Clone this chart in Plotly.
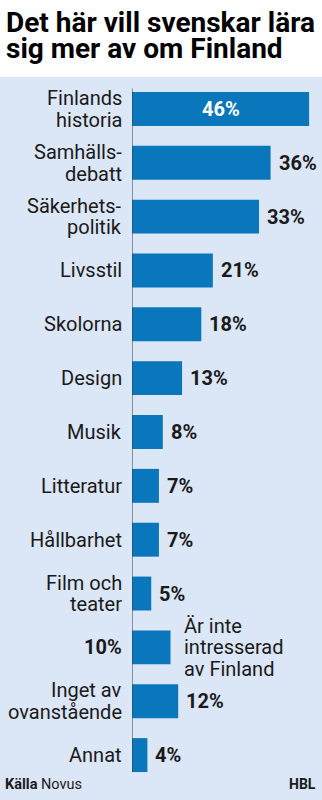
import plotly.graph_objects as go

# ---- data ----
categories = [
    "Finlands<br>historia",
    "Samhälls-<br>debatt",
    "Säkerhets-<br>politik",
    "Livsstil",
    "Skolorna",
    "Design",
    "Musik",
    "Litteratur",
    "Hållbarhet",
    "Film och<br>teater",
    "Är inte<br>intresserad<br>av Finland",
    "Inget av<br>ovanstående",
    "Annat",
]
values = [46, 36, 33, 21, 18, 13, 8, 7, 7, 5, 10, 12, 4]
special_category = "Är inte<br>intresserad<br>av Finland"

title_lines = ["Det här vill svenskar lära", "sig mer av om Finland"]
source_text = "<b>Källa</b> Novus"
brand_text = "<b>HBL</b>"

# ---- styling ----
W, H = 322, 800
ML, MR, MT, MB = 132, 0, 82, 18
PW, PH = W - ML - MR, H - MT - MB
BAR = "#0a77bd"
BG = "#dbe6f6"
TXT = "#1a1a1a"
FONT = "Roboto"
PX_PER_UNIT = 3.85
LBL_SIZE = 20
LINE_H = 21.5


def px_x(px):
    return (px - ML) / PW


def px_y(px):
    return (H - MB - px) / PH


fig = go.Figure(
    go.Bar(
        x=values,
        y=categories,
        orientation="h",
        marker=dict(color=BAR, line=dict(width=0)),
        width=0.63,
        hoverinfo="skip",
    )
)

annotations = []


def add_lines(text, y, x, xanchor, xshift):
    lines = text.split("<br>")
    n = len(lines)
    for k, ln in enumerate(lines):
        annotations.append(dict(x=x, y=y, xref="x", yref="y", text=ln,
                                xanchor=xanchor, yanchor="middle", xshift=xshift,
                                yshift=((n - 1) / 2 - k) * LINE_H, showarrow=False,
                                font=dict(family=FONT, size=LBL_SIZE, color=TXT)))


vmax = max(values)
for cat, v in zip(categories, values):
    if cat == special_category:
        annotations.append(dict(x=0, y=cat, xref="x", yref="y", text=f"<b>{v}%</b>",
                                xanchor="right", xshift=-8, showarrow=False,
                                font=dict(family=FONT, size=LBL_SIZE, color=TXT)))
        add_lines(cat, cat, v, "left", 11)
        continue
    add_lines(cat, cat, 0, "right", -8)
    if v == vmax:
        annotations.append(dict(x=v / 2, y=cat, xref="x", yref="y", text=f"<b>{v}%</b>",
                                xanchor="center", showarrow=False,
                                font=dict(family=FONT, size=LBL_SIZE, color="white")))
    else:
        annotations.append(dict(x=v, y=cat, xref="x", yref="y", text=f"<b>{v}%</b>",
                                xanchor="left", xshift=6, showarrow=False,
                                font=dict(family=FONT, size=LBL_SIZE, color=TXT)))

for k, ln in enumerate(title_lines):
    annotations.append(dict(x=px_x(4), y=px_y(22 + k * 27), xref="paper", yref="paper",
                            text=f"<b>{ln}</b>", xanchor="left", yanchor="middle", showarrow=False,
                            font=dict(family=FONT, size=28, color="#000")))

annotations.append(dict(x=px_x(3), y=px_y(784), xref="paper", yref="paper", text=source_text,
                        xanchor="left", yanchor="middle", showarrow=False,
                        font=dict(family=FONT, size=14.5, color=TXT)))
annotations.append(dict(x=px_x(318), y=px_y(784), xref="paper", yref="paper", text=brand_text,
                        xanchor="right", yanchor="middle", showarrow=False,
                        font=dict(family=FONT, size=14, color=TXT)))

shapes = [
    dict(type="rect", xref="paper", yref="paper", x0=px_x(0), x1=px_x(W), y0=px_y(H), y1=px_y(77),
         fillcolor=BG, line=dict(width=0), layer="below"),
    dict(type="line", xref="x", yref="y", x0=0, x1=0, y0=-0.38, y1=len(categories) - 1 + 0.315,
         line=dict(color="#3a3a3a", width=1), layer="above"),
]

fig.update_layout(
    width=W, height=H,
    margin=dict(l=ML, r=MR, t=MT, b=MB, pad=0),
    paper_bgcolor="white",
    plot_bgcolor="rgba(0,0,0,0)",
    showlegend=False,
    xaxis=dict(range=[0, PW / PX_PER_UNIT], visible=False, fixedrange=True),
    yaxis=dict(type="category", autorange="reversed", showticklabels=False, showgrid=False,
               zeroline=False, showline=False, ticks="", fixedrange=True),
    annotations=annotations,
    shapes=shapes,
)

fig.write_html("out.html", config={"displayModeBar": False})
